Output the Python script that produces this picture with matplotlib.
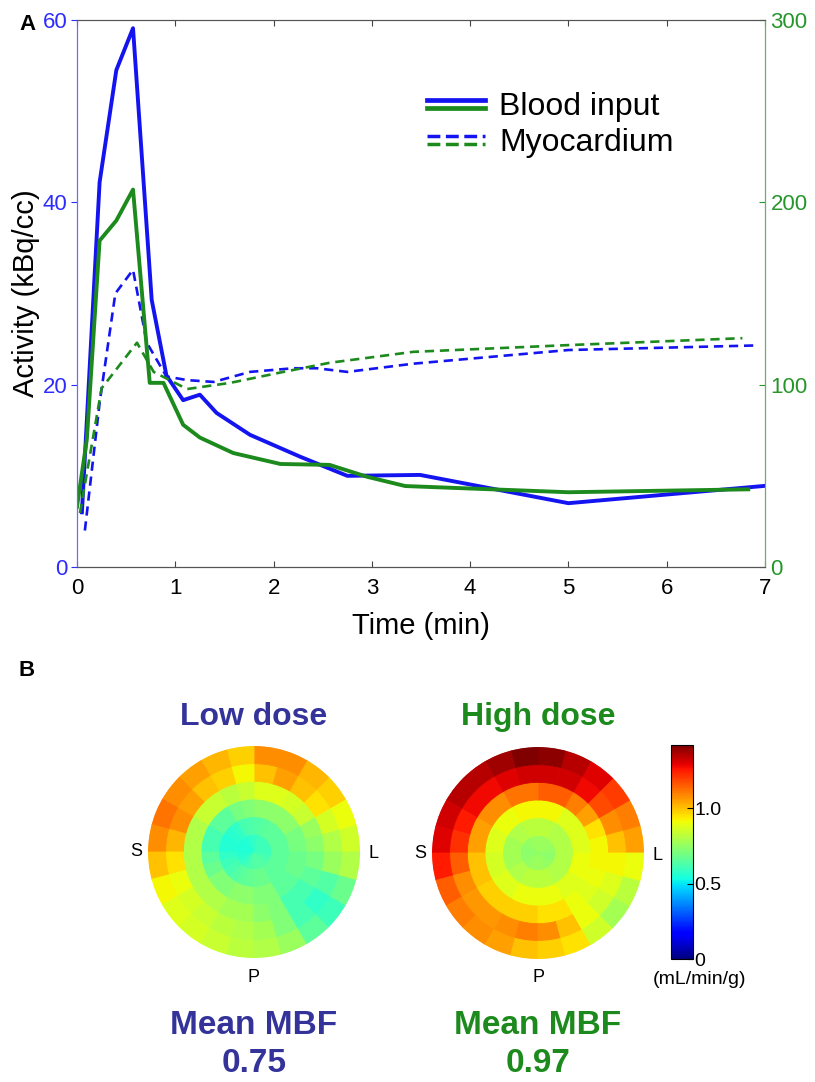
import numpy as np
import matplotlib
matplotlib.use('agg')
import matplotlib.pyplot as plt
from matplotlib.lines import Line2D
from matplotlib.legend_handler import HandlerBase
from matplotlib.colors import Normalize
from matplotlib.cm import ScalarMappable

plt.rcParams['font.family'] = ['Liberation Sans', 'DejaVu Sans']

# ---- panel A: time activity curves ----
# low dose (left axis, kBq/cc)
blood_t_low = [0.05, 0.23, 0.40, 0.57, 0.76, 0.91, 1.08, 1.25, 1.42, 1.76, 2.27, 2.75, 3.49, 5.0, 7.0]
blood_low = [6.0, 42.2, 54.5, 59.1, 29.3, 21.0, 18.3, 18.9, 16.9, 14.5, 12.1, 10.0, 10.1, 7.0, 8.9]
myo_t_low = [0.08, 0.23, 0.39, 0.57, 0.71, 0.91, 1.12, 1.39, 1.76, 2.2, 2.44, 2.75, 3.42, 5.0, 6.9]
myo_low = [4.0, 18.0, 30.0, 32.6, 24.6, 20.9, 20.5, 20.3, 21.4, 21.8, 21.8, 21.4, 22.3, 23.8, 24.3]
# high dose (right axis)
blood_t_high = [0.0, 0.1, 0.23, 0.40, 0.57, 0.74, 0.88, 1.08, 1.25, 1.59, 2.07, 2.57, 2.95, 3.34, 5.0, 6.83]
blood_high = [33, 70, 179, 190, 207, 101, 101, 78, 71, 62.5, 56.5, 56, 49.5, 44.4, 41, 42.6]
myo_t_high = [0.03, 0.25, 0.61, 0.78, 1.12, 1.56, 2.1, 2.57, 3.42, 5.0, 6.77]
myo_high = [29.6, 98, 123, 107, 97.6, 101, 107, 112, 118, 121.7, 125.5]

x_ticks = [0, 1, 2, 3, 4, 5, 6, 7]
left_ticks = [0, 20, 40, 60]
right_ticks = [0, 100, 200, 300]

# ---- panel B: polar maps (rings inner->outer, 24 sectors of 15 deg from L, ccw) ----
low_dose_map = [
    [0.60, 0.60, 0.60, 0.60, 0.60, 0.59, 0.58, 0.57, 0.56, 0.55, 0.55, 0.55,
     0.56, 0.57, 0.58, 0.59, 0.62, 0.63, 0.64, 0.64, 0.64, 0.63, 0.62, 0.61],
    [0.66, 0.66, 0.66, 0.66, 0.65, 0.64, 0.63, 0.62, 0.58, 0.57, 0.56, 0.56,
     0.58, 0.60, 0.62, 0.64, 0.66, 0.67, 0.68, 0.68, 0.66, 0.66, 0.66, 0.66],
    [0.70, 0.70, 0.74, 0.74, 0.74, 0.74, 0.72, 0.70, 0.66, 0.66, 0.62, 0.62,
     0.66, 0.68, 0.72, 0.72, 0.74, 0.74, 0.72, 0.72, 0.66, 0.66, 0.68, 0.68],
    [0.74, 0.76, 0.84, 0.86, 0.88, 0.88, 0.84, 0.82, 0.84, 0.84, 0.80, 0.80,
     0.80, 0.80, 0.80, 0.80, 0.78, 0.78, 0.74, 0.72, 0.62, 0.62, 0.66, 0.70],
    [0.80, 0.86, 0.95, 1.00, 1.05, 1.00, 0.92, 0.98, 1.00, 1.05, 1.08, 1.02,
     0.95, 0.90, 0.86, 0.84, 0.82, 0.80, 0.78, 0.72, 0.62, 0.58, 0.64, 0.76],
    [0.85, 0.90, 0.98, 1.02, 1.08, 1.08, 0.98, 1.02, 1.05, 1.08, 1.12, 1.08,
     1.00, 0.92, 0.88, 0.86, 0.84, 0.82, 0.80, 0.76, 0.66, 0.60, 0.68, 0.80],
]
high_dose_map = [
    [0.75, 0.75, 0.76, 0.76, 0.76, 0.76, 0.76, 0.76, 0.75, 0.75, 0.74, 0.74,
     0.74, 0.74, 0.75, 0.75, 0.76, 0.76, 0.76, 0.76, 0.75, 0.75, 0.74, 0.74],
    [0.80, 0.80, 0.80, 0.80, 0.82, 0.82, 0.82, 0.82, 0.80, 0.80, 0.78, 0.78,
     0.78, 0.78, 0.80, 0.80, 0.82, 0.82, 0.82, 0.82, 0.80, 0.80, 0.80, 0.80],
    [0.88, 0.88, 0.88, 0.88, 0.92, 0.92, 0.92, 0.92, 0.90, 0.90, 0.88, 0.88,
     0.86, 0.86, 0.88, 0.88, 0.90, 0.90, 0.90, 0.90, 0.88, 0.88, 0.90, 0.90],
    [0.92, 0.95, 1.05, 1.10, 1.15, 1.15, 1.12, 1.12, 1.08, 1.08, 1.05, 1.05,
     1.00, 1.00, 0.98, 0.98, 0.98, 0.98, 0.95, 0.95, 0.90, 0.88, 0.90, 0.92],
    [1.00, 1.08, 1.18, 1.28, 1.32, 1.32, 1.32, 1.30, 1.28, 1.28, 1.25, 1.22,
     1.15, 1.08, 1.06, 1.06, 1.08, 1.10, 1.08, 1.00, 0.90, 0.85, 0.88, 0.92],
    [1.05, 1.10, 1.20, 1.30, 1.35, 1.40, 1.42, 1.38, 1.35, 1.35, 1.32, 1.30,
     1.25, 1.15, 1.10, 1.08, 1.05, 1.00, 0.98, 0.95, 0.85, 0.78, 0.82, 0.90],
]
mbf_max = 1.42
cbar_ticks = [0, 0.5, 1.0]
cbar_labels = ['0', '0.5', '1.0']
mean_low = '0.75'
mean_high = '0.97'

BLUE = '#1414f0'
GREEN = '#1d8a1d'
NAVY = '#33339a'


class StackedLines(HandlerBase):
    def create_artists(self, legend, orig_handle, xdescent, ydescent,
                       width, height, fontsize, trans):
        arts = []
        for k, ln in enumerate(orig_handle):
            y = height / 2 + (0.18 - 0.36 * k) * height
            arts.append(Line2D([-xdescent, width - xdescent], [y, y],
                               color=ln.get_color(), linestyle=ln.get_linestyle(),
                               linewidth=ln.get_linewidth() + 0.6, transform=trans))
        return arts


W, H = 815, 1082
fig = plt.figure(figsize=(W / 100, H / 100), dpi=100)


def px_rect(x0, y0, x1, y1):
    return [x0 / W, 1 - y1 / H, (x1 - x0) / W, (y1 - y0) / H]


ax = fig.add_axes(px_rect(77, 20, 765, 567))
ax2 = ax.twinx()

dash = (0, (3.5, 2.2))
l1, = ax.plot(blood_t_low, blood_low, color=BLUE, lw=2.8)
l2, = ax.plot(myo_t_low, myo_low, color=BLUE, lw=1.9, ls=dash)
l3, = ax2.plot(blood_t_high, blood_high, color=GREEN, lw=2.8)
l4, = ax2.plot(myo_t_high, myo_high, color=GREEN, lw=1.9, ls=dash)

ax.set_xlim(0, 7)
ax.set_ylim(0, 60)
ax2.set_ylim(0, 300)
ax.set_xticks(x_ticks)
ax.set_yticks(left_ticks)
ax2.set_yticks(right_ticks)

ax.tick_params(axis='x', direction='in', top=True, length=4, labelsize=16, pad=8, color='#444444')
ax.tick_params(axis='y', direction='out', length=4, labelsize=16, colors='#2c2cff', pad=3)
ax2.tick_params(axis='y', direction='in', length=4, labelsize=16, colors='#26962a', pad=4)
for a in (ax, ax2):
    a.spines['top'].set_color('#555555')
    a.spines['bottom'].set_color('#555555')
    a.spines['left'].set_color('#6a6aff')
    a.spines['right'].set_color('#66b066')
ax.set_xlabel('Time (min)', fontsize=21, labelpad=9)
ax.set_ylabel('Activity (kBq/cc)', fontsize=21, labelpad=2)

fig.legend([(l1, l3), (l2, l4)], ['Blood input', 'Myocardium'],
           handler_map={tuple: StackedLines()}, loc='upper left',
           bbox_to_anchor=(427 / W, 1 - 92 / H), bbox_transform=fig.transFigure,
           frameon=False, fontsize=23, handlelength=1.8, handletextpad=0.45,
           labelspacing=0.18, borderpad=0, borderaxespad=0)

fig.text(27 / W, 1 - 25 / H, 'A', fontsize=16, fontweight='bold', ha='center', va='center')
fig.text(27 / W, 1 - 670 / H, 'B', fontsize=16, fontweight='bold', ha='center', va='center')

# polar maps drawn as curved ring sectors
norm = Normalize(0, mbf_max)
cmap = plt.get_cmap('jet')
n_ring = len(low_dose_map)
n_sec = len(low_dose_map[0])
dth = 2 * np.pi / n_sec
dr = 1.0 / n_ring
maps = [(low_dose_map, 254, 852, 'Low dose', NAVY, mean_low),
        (high_dose_map, 538, 853, 'High dose', GREEN, mean_high)]
R = 106
for data, cx, cy, title, col, mean in maps:
    pax = fig.add_axes(px_rect(cx - R, cy - R, cx + R, cy + R), projection='polar')
    for i, ring in enumerate(data):
        cols = cmap(norm(np.array(ring)))
        pax.bar(np.arange(n_sec) * dth, dr, width=dth, bottom=i * dr, align='edge',
                color=cols, edgecolor=cols, linewidth=0.6)
    pax.set_ylim(0, 1)
    pax.set_axis_off()
    fig.text(cx / W, 1 - 717 / H, title, fontsize=23, fontweight='bold', color=col, ha='center', va='center')
    fig.text((cx - R - 12) / W, 1 - cy / H, 'S', fontsize=13, ha='center', va='center')
    fig.text((cx + R + 13) / W, 1 - (cy + 2) / H, 'L', fontsize=13, ha='center', va='center')
    fig.text(cx / W, 1 - 978 / H, 'P', fontsize=13, ha='center', va='center')
    fig.text(cx / W, 1 - 1025 / H, 'Mean MBF', fontsize=24, fontweight='bold', color=col, ha='center', va='center')
    fig.text(cx / W, 1 - 1063 / H, mean, fontsize=24, fontweight='bold', color=col, ha='center', va='center')

cax = fig.add_axes(px_rect(671, 745, 693, 959))
cb = fig.colorbar(ScalarMappable(norm=norm, cmap=cmap), cax=cax)
cb.set_ticks(cbar_ticks)
cb.set_ticklabels(cbar_labels)
cax.tick_params(direction='in', length=4, labelsize=14, pad=1)
cb.outline.set_linewidth(0.8)
fig.text(700 / W, 1 - 980 / H, '(mL/min/g)', fontsize=14, ha='center', va='center')

fig.savefig('out.png', dpi=100)
